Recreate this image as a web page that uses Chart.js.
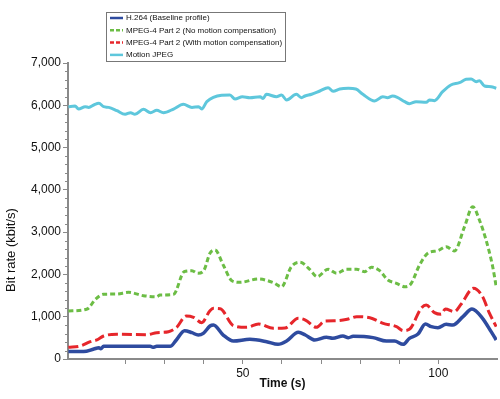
<!DOCTYPE html>
<html>
<head>
<meta charset="utf-8">
<script src="https://cdn.jsdelivr.net/npm/chart.js@4"></script>
<style>
  html, body { margin: 0; padding: 0; background: #fff; }
  #wrap { width: 500px; height: 399px; position: relative; }
</style>
</head>
<body>
<div id="wrap"><canvas id="rateChart" width="500" height="399"></canvas></div>
<script>
// values (time in s, bit rate in kbit/s)
const h264Time = [5.4, 9.3, 11.9, 13.2, 13.7, 14.4, 20, 26.3, 27, 28, 31.4, 33, 35.1, 37, 38.6, 39.9, 41.6, 42.5, 45, 47.6, 51.8, 56.1, 59, 61.2, 64.2, 66, 68.4, 71.4, 73, 75.6, 77, 78.2, 83.3, 86.7, 88.8, 91, 92.6, 94.8, 96.7, 98.2, 99.9, 102, 103.7, 106.3, 108.6, 111.3, 113.5, 114.8];
const h264Rate = [175, 175, 236, 267, 240, 300, 300, 300, 275, 300, 300, 450, 670, 622, 567, 607, 780, 804, 567, 425, 465, 410, 347, 425, 630, 567, 450, 513, 490, 544, 505, 536, 505, 425, 425, 347, 489, 590, 828, 765, 740, 820, 804, 1000, 1182, 962, 646, 450];

const mpegNoMcTime = [5.4, 10.2, 12.3, 14.4, 17.8, 20.8, 24.6, 28, 28.8, 32.3, 35, 37, 38.5, 40.1, 41.6, 42.9, 45, 47.2, 49.3, 54, 57.8, 59.9, 62.4, 64.6, 67.1, 69, 71.8, 74, 76.5, 79.1, 81.2, 82.9, 85, 87.1, 89.3, 91.4, 92.9, 95.2, 97.3, 99.9, 102, 104.1, 106.7, 108.8, 110.5, 112.2, 113.9, 114.8];
const mpegNoMcRate = [1135, 1182, 1411, 1530, 1537, 1577, 1497, 1474, 1513, 1530, 2065, 2088, 2026, 2104, 2500, 2578, 2223, 1852, 1813, 1892, 1805, 1710, 2183, 2287, 2121, 1947, 2121, 2026, 2121, 2121, 2065, 2168, 2089, 1868, 1790, 1710, 1766, 2223, 2500, 2562, 2656, 2554, 3129, 3602, 3287, 2814, 2183, 1710];

const mpegMcTime = [5.4, 8.5, 11, 12.7, 14.4, 17.8, 25.5, 28, 31, 33.1, 35.5, 37.4, 39.5, 41.6, 42.5, 44.2, 47.6, 51, 54, 57.8, 60.8, 64.2, 66, 68.8, 71, 74, 76.7, 79.1, 82.5, 85.9, 89.3, 91, 92.6, 95.6, 96.9, 99, 100.7, 101.8, 104.1, 105.8, 109, 111.3, 113, 114.8];
const mpegMcRate = [276, 307, 410, 450, 544, 583, 576, 622, 646, 749, 1017, 986, 860, 1143, 1198, 1190, 788, 749, 828, 725, 734, 962, 922, 749, 898, 905, 938, 1000, 977, 844, 765, 670, 702, 1198, 1277, 1096, 1057, 1182, 1119, 1293, 1672, 1474, 1096, 765];

const mjpegTime = [5.4, 7.1, 8, 9.7, 10.6, 11.9, 13.2, 14.4, 15.7, 17.8, 19.9, 21.3, 22.4, 24.6, 26.4, 28, 29.7, 32.3, 34.8, 37, 38.7, 39.5, 40.8, 44.6, 46.7, 48, 49.9, 51.8, 54.4, 55.2, 56, 58.6, 59.9, 61.2, 63.7, 65, 65.9, 67.6, 69.7, 71.8, 73.1, 74.8, 77, 78.9, 80.7, 83.7, 85.8, 87, 88.3, 89.5, 91.4, 92.6, 94.3, 96.9, 97.7, 99, 101.1, 103.2, 105.4, 107.1, 108.4, 109.7, 110.5, 111.8, 113.5, 114.8];
const mjpegRate = [5967, 5983, 5912, 5967, 5950, 6007, 6047, 5967, 5950, 5872, 5787, 5825, 5787, 5905, 5825, 5880, 5825, 5912, 6024, 5950, 5967, 5912, 6085, 6236, 6244, 6149, 6204, 6180, 6204, 6160, 6260, 6204, 6244, 6125, 6260, 6180, 6220, 6260, 6338, 6416, 6330, 6385, 6400, 6385, 6260, 6102, 6204, 6180, 6220, 6190, 6085, 6038, 6085, 6070, 6125, 6110, 6322, 6480, 6534, 6614, 6620, 6558, 6580, 6456, 6440, 6400];

const seriesLabels = [
    'H.264 (Baseline profile)',
    'MPEG-4 Part 2 (No motion compensation)',
    'MPEG-4 Part 2 (With motion compensation)',
    'Motion JPEG'
];
const yTickLabels = ['0', '1,000', '2,000', '3,000', '4,000', '5,000', '6,000', '7,000'];
const xTickLabels = { 50: '50', 100: '100' };

const FONT = 'Liberation Sans, Arial, Helvetica, sans-serif';
const AXIS_GRAY = '#8a8a8a';

function pts(ts, vs) {
    return ts.map((t, i) => ({ x: t, y: vs[i] }));
}

// legend box + y minor ticks + y title, drawn by hand
const extras = {
    id: 'extras',
    afterDraw(chart) {
        const c = chart.ctx;
        const y = chart.scales.y;
        const area = chart.chartArea;

        // minor ticks on the value axis
        c.save();
        c.strokeStyle = AXIS_GRAY;
        c.lineWidth = 1;
        for (let v = 0; v <= 7000; v += 200) {
            if (v % 1000 === 0) continue;
            const py = Math.round(y.getPixelForValue(v)) + 0.5;
            c.beginPath();
            c.moveTo(area.left - 3, py);
            c.lineTo(area.left, py);
            c.stroke();
        }

        // y title
        c.translate(11, 250);
        c.rotate(-Math.PI / 2);
        c.fillStyle = '#111';
        c.font = '13px ' + FONT;
        c.textAlign = 'center';
        c.textBaseline = 'middle';
        c.fillText('Bit rate (kbit/s)', 0, 0);
        c.restore();

        // legend
        c.save();
        const bx = 106.5, by = 12.5, bw = 179, bh = 49;
        c.fillStyle = '#fff';
        c.fillRect(bx, by, bw, bh);
        c.strokeStyle = '#777';
        c.lineWidth = 1;
        c.strokeRect(bx, by, bw, bh);
        c.font = '8px ' + FONT;
        c.textBaseline = 'middle';
        chart.data.datasets.forEach((ds, i) => {
            const ry = 18 + i * 12.3;
            c.strokeStyle = ds.borderColor;
            c.lineWidth = 2.5;
            c.setLineDash(ds.borderDash ? [4, 2] : []);
            c.beginPath();
            c.moveTo(110, ry);
            c.lineTo(123, ry);
            c.stroke();
            c.setLineDash([]);
            c.fillStyle = '#111';
            c.fillText(ds.label, 126, ry);
        });
        c.restore();
    }
};

new Chart(document.getElementById('rateChart'), {
    type: 'line',
    data: {
        datasets: [
            {
                label: seriesLabels[0],
                data: pts(h264Time, h264Rate),
                borderColor: '#2e4b9f',
                borderWidth: 3.5,
            },
            {
                label: seriesLabels[1],
                data: pts(mpegNoMcTime, mpegNoMcRate),
                borderColor: '#6cbd45',
                borderWidth: 3,
                borderDash: [5, 3],
            },
            {
                label: seriesLabels[2],
                data: pts(mpegMcTime, mpegMcRate),
                borderColor: '#e6262b',
                borderWidth: 3,
                borderDash: [10, 4],
            },
            {
                label: seriesLabels[3],
                data: pts(mjpegTime, mjpegRate),
                borderColor: '#5ec7dc',
                borderWidth: 3,
            },
        ],
    },
    options: {
        responsive: false,
        animation: false,
        layout: { padding: { top: 63, right: 3, left: 0, bottom: 0 } },
        elements: {
            point: { radius: 0 },
            line: { cubicInterpolationMode: 'monotone', fill: false },
        },
        plugins: {
            legend: { display: false },
            tooltip: { enabled: false },
        },
        scales: {
            x: {
                type: 'linear',
                min: 5.3,
                max: 115,
                afterBuildTicks: s => { s.ticks = s.ticks.filter(t => t.value % 10 === 0); },
                afterFit: s => { s.height = 40; },
                ticks: {
                    stepSize: 10,
                    autoSkip: false,
                    maxRotation: 0,
                    padding: 2,
                    color: '#111',
                    font: { family: FONT, size: 12 },
                    callback: v => xTickLabels[v] || '',
                },
                grid: { drawOnChartArea: false, tickLength: 5, tickColor: AXIS_GRAY },
                border: { color: AXIS_GRAY, width: 2 },
                title: {
                    display: true,
                    text: 'Time (s)',
                    color: '#111',
                    font: { family: FONT, size: 12, weight: 'bold' },
                    padding: { top: 0, bottom: 8 },
                },
            },
            y: {
                min: 0,
                max: 7000,
                afterFit: s => { s.width = 68; },
                ticks: {
                    stepSize: 1000,
                    padding: 2,
                    color: '#111',
                    font: { family: FONT, size: 12 },
                    callback: v => yTickLabels[v / 1000],
                },
                grid: { drawOnChartArea: false, tickLength: 5, tickColor: AXIS_GRAY },
                border: { color: AXIS_GRAY, width: 2 },
            },
        },
    },
    plugins: [extras],
});
</script>
</body>
</html>
